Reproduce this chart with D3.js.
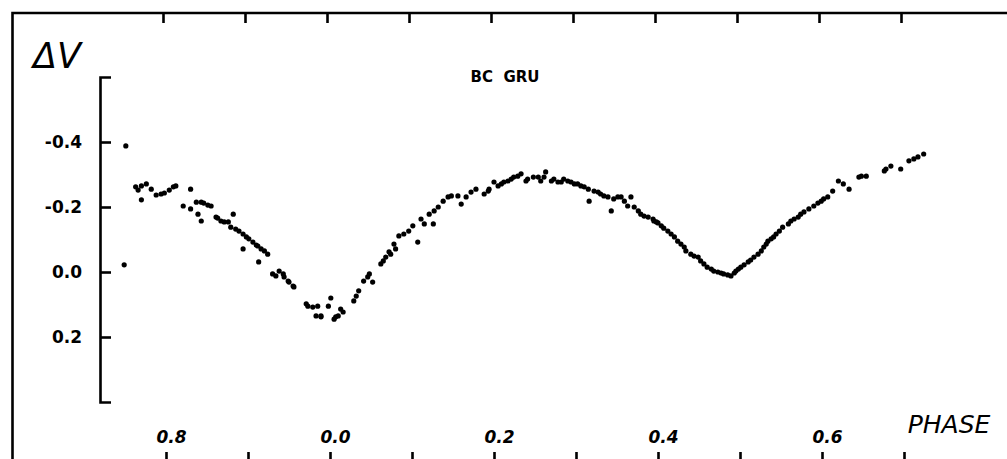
<!DOCTYPE html>
<html>
<head>
    <meta charset="UTF-8">
    <title>BC Gru light curve</title>
    <style>
        body { margin: 0; background: #fff; }
        svg { display: block; }
        .lbl { font-family: "DejaVu Sans", sans-serif; fill: #000; }
    </style>
</head>
<body>
    <svg></svg>
    <script src="https://d3js.org/d3.v7.min.js"></script>
    <script>
        let width = 1007, height = 459;

        const phase = [
            -0.237, -0.230, -0.224, -0.218, -0.230, -0.212, -0.202, -0.196, -0.188, -0.170,
            -0.179, -0.170, -0.163, -0.157, -0.149, -0.161, -0.157, -0.139, -0.133, -0.124,
            -0.118, -0.121, -0.111, -0.102, -0.094, -0.088, -0.080, -0.076, -0.106, -0.087,
            -0.070, -0.062, -0.056, -0.050, -0.044, -0.029, -0.021, -0.015, -0.011, -0.002,
            0.001, 0.005, 0.010, 0.016, -0.251, -0.249,
            -0.234, -0.206, -0.191, -0.154, -0.145, -0.137, -0.129, -0.115, -0.106, -0.099,
            -0.090, -0.084, -0.066, -0.057, -0.051, -0.045, -0.027, -0.017, -0.011, 0.013, 0.007,
            0.029, 0.035, 0.041, 0.048, 0.052, 0.062, 0.068, 0.074, 0.080, 0.084,
            0.096, 0.101, 0.107, 0.111, 0.121, 0.126, 0.132, 0.138, 0.148, 0.160,
            0.166, 0.172, 0.178, 0.193, 0.200, 0.209, 0.217, 0.224, 0.233, 0.239,
            0.248, 0.257, 0.263, 0.270, 0.278, 0.285, 0.294, 0.302, 0.310, 0.316,
            0.322, 0.330, 0.339, 0.343, 0.351, 0.359, 0.367, 0.371, 0.379, 0.388, 0.398,
            0.032, 0.046, 0.065, 0.072, 0.078, 0.090, 0.115, 0.127, 0.144, 0.156,
            0.188, 0.194, 0.205, 0.212, 0.221, 0.229, 0.241, 0.254, 0.261, 0.273,
            0.282, 0.290, 0.298, 0.306, 0.315, 0.327, 0.334, 0.346, 0.355, 0.363,
            0.376, 0.383, 0.394,
            0.395, 0.404, 0.412, 0.420, 0.428, 0.434, 0.440, 0.449, 0.456, 0.465,
            0.473, 0.480, 0.489, 0.495, 0.501, 0.510, 0.517, 0.526, 0.532, 0.538,
            0.544, 0.552, 0.559, 0.566, 0.574, 0.584, 0.590, 0.599, 0.607, 0.613,
            0.620, 0.626, 0.633, 0.645, 0.654, 0.678, 0.684, 0.696, 0.706, 0.717, 0.724,
            0.400, 0.407, 0.416, 0.424, 0.432, 0.444, 0.452, 0.460, 0.468, 0.477,
            0.485, 0.493, 0.498, 0.505, 0.513, 0.522, 0.529, 0.534, 0.541, 0.548,
            0.562, 0.571, 0.578, 0.595, 0.602, 0.648, 0.676, 0.712
        ];
        const deltaV = [
            -0.262, -0.265, -0.271, -0.255, -0.222, -0.237, -0.243, -0.252, -0.265, -0.255,
            -0.203, -0.194, -0.215, -0.215, -0.206, -0.178, -0.157, -0.169, -0.157, -0.154,
            -0.178, -0.138, -0.126, -0.108, -0.092, -0.080, -0.065, -0.055, -0.071, -0.031,
            0.006, -0.003, 0.015, 0.031, 0.046, 0.098, 0.108, 0.105, 0.138, 0.105,
            0.080, 0.145, 0.135, 0.123, -0.022, -0.388,
            -0.252, -0.240, -0.262, -0.212, -0.203, -0.166, -0.154, -0.132, -0.117, -0.102,
            -0.083, -0.071, 0.012, 0.006, 0.028, 0.043, 0.105, 0.135, 0.135, 0.114, 0.138,
            0.089, 0.058, 0.028, 0.006, 0.031, -0.025, -0.046, -0.055, -0.071, -0.111,
            -0.126, -0.142, -0.092, -0.163, -0.178, -0.148, -0.200, -0.218, -0.234, -0.209,
            -0.231, -0.246, -0.255, -0.249, -0.277, -0.271, -0.280, -0.292, -0.302, -0.280,
            -0.292, -0.280, -0.308, -0.280, -0.277, -0.286, -0.277, -0.271, -0.262, -0.218,
            -0.249, -0.240, -0.231, -0.188, -0.231, -0.218, -0.231, -0.200, -0.178, -0.169, -0.154,
            0.074, 0.015, -0.034, -0.062, -0.086, -0.117, -0.148, -0.188, -0.231, -0.234,
            -0.240, -0.255, -0.265, -0.277, -0.286, -0.295, -0.286, -0.292, -0.292, -0.286,
            -0.277, -0.280, -0.271, -0.265, -0.255, -0.246, -0.234, -0.225, -0.231, -0.203,
            -0.188, -0.172, -0.163,
            -0.157, -0.142, -0.126, -0.108, -0.086, -0.065, -0.055, -0.046, -0.025, -0.009,
            0.000, 0.006, 0.012, -0.003, -0.015, -0.031, -0.046, -0.065, -0.086, -0.102,
            -0.117, -0.138, -0.148, -0.163, -0.178, -0.194, -0.203, -0.218, -0.231, -0.249,
            -0.280, -0.271, -0.255, -0.292, -0.295, -0.317, -0.326, -0.317, -0.342, -0.354, -0.363,
            -0.151, -0.135, -0.117, -0.095, -0.077, -0.049, -0.034, -0.015, -0.003, 0.003,
            0.009, 0.003, -0.009, -0.022, -0.037, -0.055, -0.077, -0.095, -0.108, -0.126,
            -0.157, -0.169, -0.185, -0.212, -0.225, -0.295, -0.311, -0.348
        ];

        const phaseTicks = [-0.2, -0.1, 0.0, 0.1, 0.2, 0.3, 0.4, 0.5, 0.6, 0.7];
        const phaseLabels = ["0.8", "", "0.0", "", "0.2", "", "0.4", "", "0.6", ""];
        const dvTicks = [-0.4, -0.2, 0.0, 0.2];
        const dvLabels = ["-0.4", "-0.2", "0.0", "0.2"];

        const points = phase.map((p, i) => ({ p: p, v: deltaV[i] }));

        let svg = d3.select("svg")
            .attr("width", width)
            .attr("height", height)
            .style("background", "#fff");

        const x = d3.scaleLinear().domain([-0.2, 0.7]).range([166, 904]);
        const y = d3.scaleLinear().domain([-0.6, 0.4]).range([77, 402]);

        // outer frame (left + top)
        svg.append("path")
            .attr("d", "M12.5," + height + "V13H" + width)
            .attr("fill", "none")
            .attr("stroke", "#000")
            .attr("stroke-width", 2.6);

        // top ticks
        let topAxis = svg.append("g")
            .attr("transform", "translate(-3,13)")
            .call(d3.axisBottom(x).tickValues(phaseTicks).tickSize(10).tickFormat(""));
        topAxis.select(".domain").remove();

        // bottom ticks + labels (labels above ticks)
        let botAxis = svg.append("g")
            .attr("transform", "translate(0," + height + ")")
            .call(d3.axisTop(x).tickValues(phaseTicks).tickSize(7).tickPadding(9)
                .tickFormat((d, i) => phaseLabels[i]));
        botAxis.select(".domain").remove();
        botAxis.selectAll("text")
            .attr("class", "lbl")
            .style("font-size", "17px")
            .style("font-weight", "bold")
            .style("font-style", "italic")
            .attr("dx", 5);

        // delta V axis, ticks pointing right, labels left
        let yAxis = svg.append("g")
            .attr("transform", "translate(100,0)")
            .call(d3.axisLeft(y).tickValues(dvTicks).tickSizeInner(-11).tickSizeOuter(-11).tickPadding(18)
                .tickFormat((d, i) => dvLabels[i]));
        yAxis.selectAll("text")
            .attr("class", "lbl")
            .style("font-size", "17px")
            .style("font-weight", "bold");

        svg.selectAll(".tick line").attr("stroke", "#000").attr("stroke-width", 2.6);
        svg.selectAll(".domain").attr("stroke", "#000").attr("stroke-width", 2.6);

        // observations
        svg.append("g")
            .selectAll("circle")
            .data(points)
            .enter()
            .append("circle")
            .attr("cx", d => x(d.p))
            .attr("cy", d => y(d.v))
            .attr("r", 2.6)
            .attr("fill", "#000");

        // titles
        svg.append("text")
            .attr("class", "lbl")
            .attr("x", 33).attr("y", 68)
            .style("font-size", "35px")
            .style("font-style", "italic")
            .text("ΔV");

        svg.append("text")
            .attr("class", "lbl")
            .attr("x", 505).attr("y", 82)
            .attr("text-anchor", "middle")
            .style("font-size", "15px")
            .style("font-weight", "bold")
            .style("white-space", "pre")
            .text("BC  GRU");

        svg.append("text")
            .attr("class", "lbl")
            .attr("x", 949).attr("y", 433)
            .attr("text-anchor", "middle")
            .style("font-size", "25px")
            .style("font-style", "italic")
            .text("PHASE");
    </script>
</body>
</html>
